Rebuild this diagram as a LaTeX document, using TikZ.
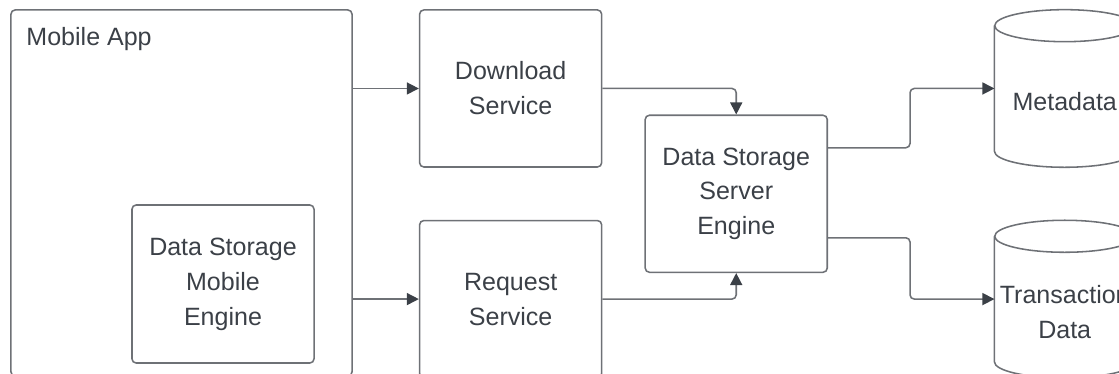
\documentclass[tikz,border=0pt]{standalone}
\usepackage{fontspec}
\setmainfont{Liberation Sans}
\usetikzlibrary{positioning, calc, arrows.meta}
\definecolor{linegray}{HTML}{6E7176}
\definecolor{inkgray}{HTML}{3B4047}

\begin{document}
\begin{tikzpicture}[x=0.025cm, y=-0.025cm, font=\fontsize{17.8}{24.8}\selectfont,
	box/.style={draw=linegray, line width=1.1pt, rounded corners=3pt, minimum width=4.55cm, minimum height=3.925cm, align=center, text=inkgray},
	db/.style={inner sep=0pt, minimum width=3.5cm, minimum height=3.925cm},
	flow/.style={draw=linegray, line width=1.1pt, rounded corners=3pt, -{Triangle[length=3mm, width=3mm, color=inkgray]}}]
			\useasboundingbox (0,0) rectangle (1119,374);
			\clip (0,0) rectangle (1119,374);
			\node (app) [box, minimum width=8.525cm, minimum height=9.15cm, label={[anchor=north west, inner sep=0pt, text=inkgray, xshift=0.4cm, yshift=-0.45cm]north west:Mobile App}] at (181.5,193) {};
			\node (mobileengine) [box, minimum height=3.95cm] at (223,284) {Data Storage\\Mobile\\Engine};
			\node (download) [box, right=1.65cm of app.north east, anchor=north west] {Download\\Service};
			\node (request) [box, below=1.3cm of download] {Request\\Service};
			\node (server) [box, anchor=west] at ($(download.east)!.5!(request.east)+(42,0)$) {Data Storage\\Server\\Engine};
			\node (meta) [db, anchor=west, label={[text=inkgray, yshift=-0.325cm]center:Metadata}] at ($(download.east)+(392,0)$) {};
			\node (txn) [db, anchor=west, label={[text=inkgray, align=center, yshift=-0.325cm]center:Transaction\\Data}] at ($(request.east)+(392,0)$) {};
			% cylinders
			\foreach \db in {meta, txn} {
				\draw [linegray, line width=1.1pt] ($(\db.north west)+(0,16)$) -- ($(\db.south west)+(0,-16)$) arc[start angle=180, end angle=360, x radius=1.75cm, y radius=0.4cm] -- ($(\db.north east)+(0,16)$);
				\draw [linegray, line width=1.1pt] ($(\db.north)+(0,16)$) ellipse [x radius=1.75cm, y radius=0.4cm];
			}
			\draw [flow] (download.west -| app.east) -- (download.west);
			\draw [flow] (request.west -| app.east) -- (request.west);
			\draw [flow] (download.east) -| (server.north);
			\draw [flow] (request.east) -| (server.south);
			\draw [flow] ($(server.east)+(0,-46)$) -- ++(82,0) |- (meta.west);
			\draw [flow] ($(server.east)+(0,44)$) -- ++(82,0) |- (txn.west);
		\end{tikzpicture}
\end{document}
